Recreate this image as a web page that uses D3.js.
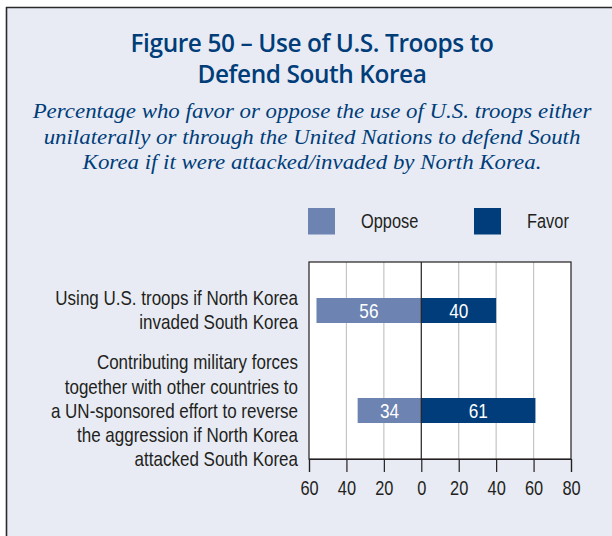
<!DOCTYPE html>
<html><head><meta charset="utf-8">
<script src="https://cdn.jsdelivr.net/npm/d3@7"></script>
<style>
body{margin:0;background:#fff;}
svg{display:block;}
</style></head>
<body>
<script>
const categories = [
  ["Using U.S. troops if North Korea","invaded South Korea"],
  ["Contributing military forces","together with other countries to","a UN-sponsored effort to reverse","the aggression if North Korea","attacked South Korea"]
];
const opposeValues = [56, 34];
const favorValues = [40, 61];
const tickValues = [-60,-40,-20,0,20,40,60,80];
const tickLabels = ["60","40","20","0","20","40","60","80"];
const seriesNames = ["Oppose","Favor"];
const titleLines = ["Figure 50 – Use of U.S. Troops to","Defend South Korea"];
const subtitleLines = ["Percentage who favor or oppose the use of U.S. troops either","unilaterally or through the United Nations to defend South","Korea if it were attacked/invaded by North Korea."];

const W=612,H=536;
const colOppose="#6d83b1", colFavor="#003d7a", bg="#e8ebf4", titleCol="#003d79", ink="#231f20";
const sans="'Liberation Sans',Arial,sans-serif";
const NX=0.84;

const svg=d3.select("body").append("svg").attr("width",W).attr("height",H);
svg.append("rect").attr("width",W).attr("height",H).attr("fill","#fff");
svg.append("rect").attr("x",6).attr("y",7).attr("width",W).attr("height",H).attr("fill",bg);
svg.append("line").attr("x1",6).attr("x2",W).attr("y1",7.5).attr("y2",7.5).attr("stroke","#2a2a2a").attr("stroke-width",1.6);
svg.append("line").attr("x1",6.5).attr("x2",6.5).attr("y1",7).attr("y2",H).attr("stroke","#2a2a2a").attr("stroke-width",1.6);

function ntext(g,x,y,txt,size,anchor,fill,sx){
  return g.append("g").attr("transform",`translate(${x},${y}) scale(${sx||NX},1)`)
    .append("text").attr("text-anchor",anchor).attr("font-family",sans).attr("font-size",size).attr("fill",fill).text(txt);
}

svg.selectAll("text.title").data(titleLines).join("text").attr("class","title")
  .attr("x",312).attr("y",(d,i)=>52+i*30.5).attr("text-anchor","middle")
  .attr("font-family","'Open Sans',sans-serif").attr("font-weight","600").attr("font-size",24.4)
  .attr("fill",titleCol).attr("letter-spacing",-0.4).text(d=>d);

subtitleLines.forEach((t,i)=>{
  svg.append("g").attr("transform",`translate(312,${118+i*25.5}) scale(1.09,1)`)
    .append("text").attr("text-anchor","middle").attr("font-family","'Liberation Serif',serif")
    .attr("font-style","italic").attr("font-size",21).attr("fill",titleCol).text(t);
});

const x=d3.scaleLinear().domain([-60,80]).range([309,571]);
const plotTop=262, plotBottom=459;
const barY=[298,398], barH=25;

svg.append("rect").attr("x",x(-60)).attr("y",plotTop).attr("width",x(80)-x(-60)).attr("height",plotBottom-plotTop).attr("fill","#fff");
svg.selectAll("line.grid").data(tickValues.filter(t=>t!==-60&&t!==80&&t!==0)).join("line").attr("class","grid")
  .attr("x1",d=>x(d)).attr("x2",d=>x(d)).attr("y1",plotTop).attr("y2",plotBottom)
  .attr("stroke","#c4c4c4").attr("stroke-width",1.2);
svg.append("rect").attr("x",x(-60)).attr("y",plotTop).attr("width",x(80)-x(-60)).attr("height",plotBottom-plotTop)
  .attr("fill","none").attr("stroke",ink).attr("stroke-width",1.2);

const bars=svg.append("g");
opposeValues.forEach((v,i)=>{
  bars.append("rect").attr("x",x(-v)).attr("y",barY[i]).attr("width",x(0)-x(-v)).attr("height",barH).attr("fill",colOppose);
  bars.append("rect").attr("x",x(0)).attr("y",barY[i]).attr("width",x(favorValues[i])-x(0)).attr("height",barH).attr("fill",colFavor);
  ntext(bars,(x(-v)+x(0))/2,barY[i]+barH/2+7,v,20,"middle","#fff",0.86);
  ntext(bars,(x(favorValues[i])+x(0))/2,barY[i]+barH/2+7,favorValues[i],20,"middle","#fff",0.86);
});
svg.append("line").attr("x1",x(0)).attr("x2",x(0)).attr("y1",plotTop).attr("y2",plotBottom).attr("stroke",ink).attr("stroke-width",1.2);

const axis=d3.axisBottom(x).tickValues(tickValues).tickSize(13).tickFormat((d,i)=>tickLabels[i]);
const ag=svg.append("g").attr("transform",`translate(0,${plotBottom})`).call(axis);
ag.select(".domain").attr("stroke",ink).attr("stroke-width",1.2);
ag.selectAll(".tick line").attr("stroke",ink).attr("stroke-width",1.2);
ag.selectAll(".tick text").attr("font-family",sans).attr("font-size",19.5).attr("fill",ink).attr("dy",0).attr("y",0)
  .attr("transform",`translate(0,36) scale(${NX},1)`);

const catBase=[[305,329],[369,393.5,418,442,466]];
categories.forEach((lines,i)=>{
  lines.forEach((t,j)=>ntext(svg,298,catBase[i][j],t,20,"end",ink,0.85));
});

const legend=[{n:seriesNames[0],c:colOppose,sx:308,tx:361},{n:seriesNames[1],c:colFavor,sx:474,tx:527}];
legend.forEach(l=>{
  svg.append("rect").attr("x",l.sx).attr("y",208).attr("width",27).attr("height",26.5).attr("fill",l.c);
  ntext(svg,l.tx,227.5,l.n,19.5,"start",ink);
});
</script>
</body></html>
